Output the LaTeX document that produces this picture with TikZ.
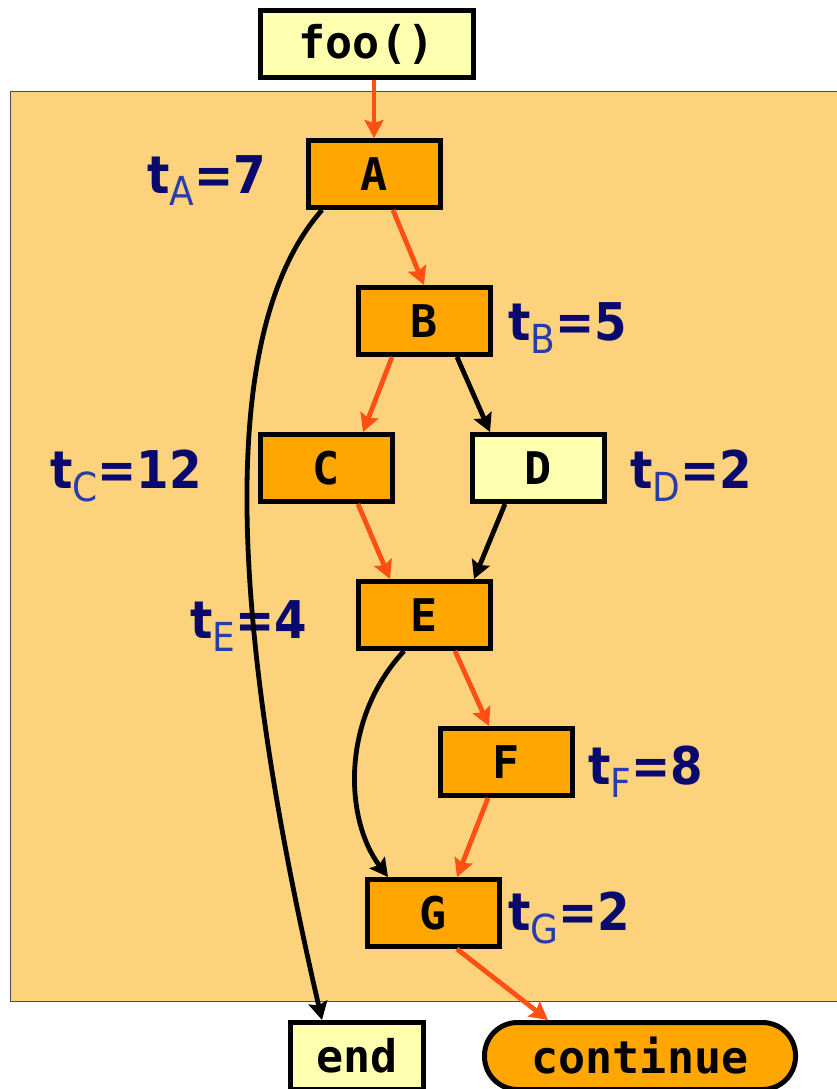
\documentclass[tikz,border=0pt]{standalone}
\usepackage{fontspec}
\usetikzlibrary{arrows.meta,calc}
\newfontfamily\nodefont{DejaVu Sans Mono}
\newfontfamily\labfont{DejaVu Sans Condensed}
\definecolor{bgor}{RGB}{253,210,125}
\definecolor{boxor}{RGB}{255,166,0}
\definecolor{boxye}{RGB}{255,255,176}
\definecolor{edgeor}{RGB}{255,80,20}
\definecolor{labnavy}{RGB}{10,10,110}
\definecolor{labsub}{RGB}{40,60,170}
\newcommand{\tlab}[2]{{\labfont\bfseries\fontsize{52}{60}\selectfont\color{labnavy}t}{\labfont\fontsize{40}{48}\selectfont\color{labsub}\raisebox{-13pt}{#1}}{\labfont\bfseries\fontsize{52}{60}\selectfont\color{labnavy}=#2}}
\begin{document}
\begin{tikzpicture}[x=1pt,y=-1pt,
  box/.style={draw=black, line width=5pt, minimum width=132pt, minimum height=67pt, inner sep=0pt,
    font=\nodefont\bfseries\fontsize{45}{52}\selectfont, fill=boxor},
  ybox/.style={box, fill=boxye},
  lab/.style={inner sep=0pt, anchor=base west},
  tip/.style={-{Stealth[length=18pt,width=19pt,inset=3pt]}},
  oarr/.style={draw=edgeor, line width=4.8pt, tip},
  barr/.style={draw=black, line width=4.8pt, tip}]
\useasboundingbox (0,0) rectangle (836,1089);
\draw[fill=bgor, draw=black!70, line width=1pt] (10,92) rectangle (845,1001);
\node[ybox, minimum width=213pt] (foo) at (366.5,44) {foo()};
\node[box] (A) at (374,174) {A};
\node[box] (B) at (424,321) {B};
\node[box] (C) at (326,468) {C};
\node[ybox] (D) at (538,468) {D};
\node[box] (E) at (424,615) {E};
\node[box] (F) at (506,762) {F};
\node[box] (G) at (433,913) {G};
\node[ybox, minimum width=133pt] (end) at (357,1056) {end};
\node[box, minimum width=311pt, rounded corners=33pt] (cont) at (640,1056) {continue};
\node[lab] (lA) at (147,193) {\tlab{A}{7}};
\node[lab] (lB) at (508,340) {\tlab{B}{5}};
\node[lab] (lC) at (50,488) {\tlab{C}{12}};
\node[lab] (lD) at (630,488) {\tlab{D}{2}};
\node[lab] (lE) at (190,638) {\tlab{E}{4}};
\node[lab] (lF) at (588,784) {\tlab{F}{8}};
\node[lab] (lG) at (508,930) {\tlab{G}{2}};
\draw[oarr] (A.north |- foo.south) -- (A.north);
\draw[oarr] ([xshift=19pt]A.south) -- (B.north);
\draw[barr] ([xshift=-52pt]A.south) .. controls (225,320) and (220,580) .. ([xshift=-35pt]end.north);
\draw[oarr] ([xshift=-32pt]B.south) -- ([xshift=37pt]C.north);
\draw[barr] ([xshift=33pt]B.south) -- ([xshift=-48pt]D.north);
\draw[oarr] ([xshift=32pt]C.south) -- ([xshift=-34pt]E.north);
\draw[barr] ([xshift=-33pt]D.south) -- ([xshift=50pt]E.north);
\draw[oarr] ([xshift=31pt]E.south) -- ([xshift=-17pt]F.north);
\draw[barr] ([xshift=-20pt]E.south) .. controls (340,720) and (345,820) .. ([xshift=-45pt]G.north);
\draw[oarr] ([xshift=-18pt]F.south) -- ([xshift=24pt]G.north);
\draw[oarr] ([xshift=24pt]G.south) -- ([xshift=-92pt]cont.north);
\end{tikzpicture}
\end{document}
